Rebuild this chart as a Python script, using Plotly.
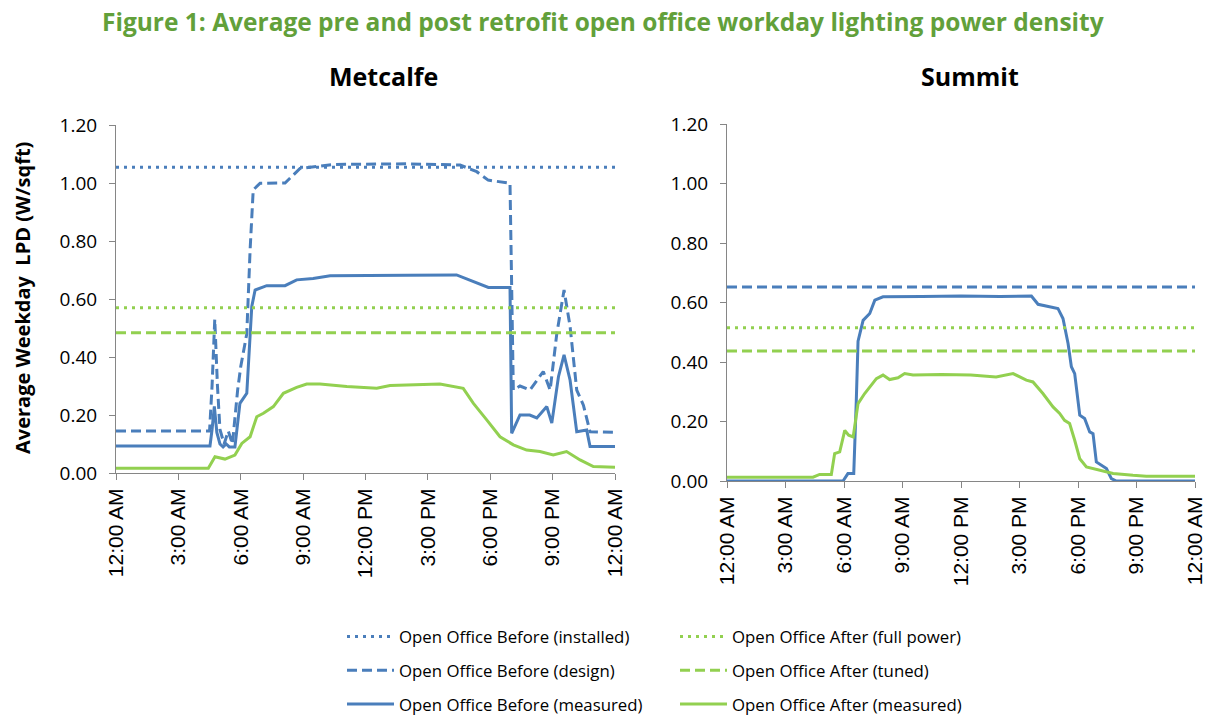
import plotly.graph_objects as go

W, H = 1205, 717
BLUE = "#4A7EBB"
GREEN = "#92D050"
TITLE_GREEN = "#62A03A"

# ---------------- Data (hours since midnight, LPD W/sqft) ----------------
tick_hours = [0, 3, 6, 9, 12, 15, 18, 21, 24]
tick_labels = ["12:00 AM", "3:00 AM", "6:00 AM", "9:00 AM", "12:00 PM",
               "3:00 PM", "6:00 PM", "9:00 PM", "12:00 AM"]

# Metcalfe reference levels
met_installed = 1.054
met_full_power = 0.570
met_tuned = 0.484

# Metcalfe - before (measured)
met_before_meas_t = [0, 4.52, 4.62, 4.73, 4.85, 5.0, 5.15, 5.3, 5.45, 5.72, 5.96, 6.29, 6.53,
                     6.69, 7.25, 8.13, 8.69, 9.48, 10.3, 12.0, 14.0, 16.38, 17.19, 17.91,
                     18.95, 19.03, 19.43, 19.9, 20.24, 20.72, 20.96, 21.28, 21.55, 21.84,
                     22.16, 22.64, 22.8, 24]
met_before_meas_v = [0.093, 0.093, 0.15, 0.23, 0.14, 0.10, 0.09, 0.10, 0.09, 0.09, 0.24, 0.275, 0.574,
                     0.631, 0.646, 0.646, 0.666, 0.671, 0.680, 0.680, 0.682, 0.683, 0.660, 0.640,
                     0.640, 0.137, 0.200, 0.200, 0.190, 0.229, 0.172, 0.332, 0.407, 0.320,
                     0.142, 0.148, 0.091, 0.091]

# Metcalfe - before (design)
met_before_design_t = [0, 4.5, 4.62, 4.75, 4.88, 5.0, 5.2, 5.4, 5.6, 5.85, 6.0, 6.29, 6.45,
                       6.6, 6.93, 8.13, 8.85, 10.45, 12.0, 14.0, 16.55, 17.35, 17.9, 18.95,
                       19.11, 19.43, 19.91, 20.55, 20.88, 21.2, 21.55, 21.84, 22.16, 22.48,
                       22.8, 24]
met_before_design_v = [0.145, 0.145, 0.30, 0.53, 0.30, 0.15, 0.10, 0.145, 0.10, 0.286, 0.367, 0.48, 0.77,
                       0.976, 0.999, 1.000, 1.050, 1.064, 1.065, 1.066, 1.062, 1.039, 1.010, 0.999,
                       0.286, 0.300, 0.286, 0.350, 0.286, 0.480, 0.631, 0.505, 0.286, 0.234,
                       0.142, 0.140]

# Metcalfe - after (measured)
met_after_meas_t = [0, 2.0, 4.44, 4.76, 5.24, 5.72, 6.05, 6.45, 6.77, 7.09, 7.57, 8.05, 8.69,
                    9.17, 9.81, 11.1, 12.54, 13.18, 15.58, 16.7, 17.19, 17.83, 18.47, 19.11,
                    19.75, 20.39, 21.03, 21.67, 22.32, 22.96, 24]
met_after_meas_v = [0.016, 0.015, 0.016, 0.056, 0.048, 0.062, 0.102, 0.125, 0.194, 0.206, 0.229,
                    0.275, 0.295, 0.307, 0.307, 0.298, 0.292, 0.302, 0.307, 0.292, 0.240, 0.183,
                    0.125, 0.097, 0.079, 0.074, 0.062, 0.074, 0.045, 0.022, 0.020]

# Summit reference levels
sum_design = 0.652
sum_full_power = 0.515
sum_tuned = 0.437

# Summit - before (measured)
sum_before_meas_t = [0, 5.95, 6.2, 6.5, 6.63, 6.72, 6.98, 7.32, 7.58, 8.0, 10.0, 12.0, 14.0, 15.61,
                     15.95, 16.97, 17.23, 17.49, 17.66, 17.83, 18.09, 18.34, 18.6, 18.77,
                     18.94, 19.2, 19.46, 19.71, 19.97, 24]
sum_before_meas_v = [0.0, 0.0, 0.025, 0.025, 0.27, 0.47, 0.54, 0.563, 0.608, 0.619, 0.620, 0.622, 0.620, 0.622,
                     0.594, 0.580, 0.546, 0.462, 0.384, 0.361, 0.221, 0.210, 0.165, 0.159,
                     0.064, 0.053, 0.042, 0.008, 0.0, 0.0]

# Summit - after (measured)
sum_after_meas_t = [0, 2.0, 4.41, 4.75, 5.35, 5.52, 5.78, 6.04, 6.24, 6.47, 6.72, 7.06, 7.32, 7.66,
                    8.0, 8.34, 8.77, 9.11, 9.54, 11.0, 12.5, 13.8, 14.67, 15.35, 15.69,
                    16.2, 16.72, 17.06, 17.31, 17.57, 17.83, 18.09, 18.43, 19.11, 19.8,
                    20.82, 21.5, 24]
sum_after_meas_v = [0.013, 0.012, 0.013, 0.022, 0.022, 0.092, 0.098, 0.170, 0.154, 0.148, 0.260, 0.294,
                    0.316, 0.344, 0.356, 0.341, 0.347, 0.361, 0.356, 0.358, 0.356, 0.350, 0.361,
                    0.339, 0.333, 0.294, 0.249, 0.227, 0.204, 0.193, 0.137, 0.075, 0.047,
                    0.036, 0.025, 0.019, 0.016, 0.016]

y_ticks = [0, 0.2, 0.4, 0.6, 0.8, 1.0, 1.2]

# ---------------- Figure ----------------
DOT = "3px,5px"
DASH = "10px,5px"
LW = 3
TXT = "Open Sans"

fig = go.Figure()


def hline(level, color, dash, name, xa, ya, legend, show):
    fig.add_trace(go.Scatter(
        x=[0, 24], y=[level, level], mode="lines", name=name,
        line=dict(color=color, width=LW, dash=dash),
        xaxis=xa, yaxis=ya, legend=legend, showlegend=show,
        legendgroup=name, hoverinfo="skip"))


def curve(t, v, color, dash, name, xa, ya, legend, show):
    fig.add_trace(go.Scatter(
        x=t, y=v, mode="lines", name=name,
        line=dict(color=color, width=LW, dash=dash),
        xaxis=xa, yaxis=ya, legend=legend, showlegend=show,
        legendgroup=name, hoverinfo="skip"))


# Metcalfe (drives legend)
hline(met_installed, BLUE, DOT, "Open Office Before (installed)", "x", "y", "legend", True)
curve(met_before_design_t, met_before_design_v, BLUE, DASH, "Open Office Before (design)", "x", "y", "legend", True)
curve(met_before_meas_t, met_before_meas_v, BLUE, "solid", "Open Office Before (measured)", "x", "y", "legend", True)
hline(met_full_power, GREEN, DOT, "Open Office After (full power)", "x", "y", "legend2", True)
hline(met_tuned, GREEN, DASH, "Open Office After (tuned)", "x", "y", "legend2", True)
curve(met_after_meas_t, met_after_meas_v, GREEN, "solid", "Open Office After (measured)", "x", "y", "legend2", True)

# Summit
hline(sum_design, BLUE, DASH, "Open Office Before (design)", "x2", "y2", "legend", False)
curve(sum_before_meas_t, sum_before_meas_v, BLUE, "solid", "Open Office Before (measured)", "x2", "y2", "legend", False)
hline(sum_full_power, GREEN, DOT, "Open Office After (full power)", "x2", "y2", "legend2", False)
hline(sum_tuned, GREEN, DASH, "Open Office After (tuned)", "x2", "y2", "legend2", False)
curve(sum_after_meas_t, sum_after_meas_v, GREEN, "solid", "Open Office After (measured)", "x2", "y2", "legend2", False)


def px_x(p):
    return p / W


def px_y(p):
    return 1 - p / H


AXIS_COLOR = "#868686"
xaxis_common = dict(
    range=[0, 24], tickmode="array", tickvals=tick_hours, ticktext=tick_labels,
    tickangle=-90, ticks="outside", ticklen=6, tickcolor=AXIS_COLOR, tickwidth=1,
    showline=True, linecolor=AXIS_COLOR, linewidth=1, showgrid=False, zeroline=False,
    tickfont=dict(family="Liberation Sans, Arial", size=21, color="#000000"),
    ticklabeloverflow="allow", automargin=False, fixedrange=True)
yaxis_common = dict(
    range=[0, 1.2], tickmode="array", tickvals=y_ticks, tickformat=".2f",
    ticks="outside", ticklen=6, tickcolor=AXIS_COLOR, tickwidth=1, ticklabelstandoff=8,
    showline=True, linecolor=AXIS_COLOR, linewidth=1, showgrid=False, zeroline=False,
    tickfont=dict(family=TXT, size=19, color="#000000"),
    ticklabeloverflow="allow", automargin=False, fixedrange=True)

legend_common = dict(xanchor="left", yanchor="top", orientation="v", tracegroupgap=9,
                     itemwidth=47, bgcolor="rgba(0,0,0,0)", xref="container", yref="container",
                     font=dict(family=TXT, size=16.8, color="#000000"))

fig.update_layout(
    width=W, height=H,
    margin=dict(l=0, r=0, t=0, b=0, autoexpand=False),
    paper_bgcolor="white", plot_bgcolor="white",
    xaxis=dict(xaxis_common, domain=[px_x(116), px_x(615)], anchor="y"),
    yaxis=dict(yaxis_common, domain=[px_y(473), px_y(125)], anchor="x"),
    xaxis2=dict(xaxis_common, domain=[px_x(727), px_x(1195)], anchor="y2"),
    yaxis2=dict(yaxis_common, domain=[px_y(481), px_y(124)], anchor="x2"),
    legend=dict(legend_common, x=px_x(342), y=px_y(619)),
    legend2=dict(legend_common, x=px_x(675), y=px_y(619)),
    annotations=[
        dict(text="<b>Figure 1: Average pre and post retrofit open office workday lighting power density</b>",
             x=px_x(603), y=px_y(22), xref="paper", yref="paper", xanchor="center", yanchor="middle",
             showarrow=False, font=dict(family=TXT, size=24.5, color=TITLE_GREEN)),
        dict(text="<b>Metcalfe</b>", x=px_x(383), y=px_y(76), xref="paper", yref="paper",
             xanchor="center", yanchor="middle", showarrow=False,
             font=dict(family=TXT, size=25, color="#000000")),
        dict(text="<b>Summit</b>", x=px_x(970), y=px_y(76), xref="paper", yref="paper",
             xanchor="center", yanchor="middle", showarrow=False,
             font=dict(family=TXT, size=25, color="#000000")),
        dict(text="<b>Average Weekday  LPD (W/sqft)</b>", x=px_x(22), y=px_y(298),
             xref="paper", yref="paper", xanchor="center", yanchor="middle", textangle=-90,
             showarrow=False, font=dict(family=TXT, size=20, color="#000000")),
    ],
)

fig.write_html("out.html", config={"displayModeBar": False},
               post_script="document.body.style.margin='0';document.body.style.overflow='hidden';")
